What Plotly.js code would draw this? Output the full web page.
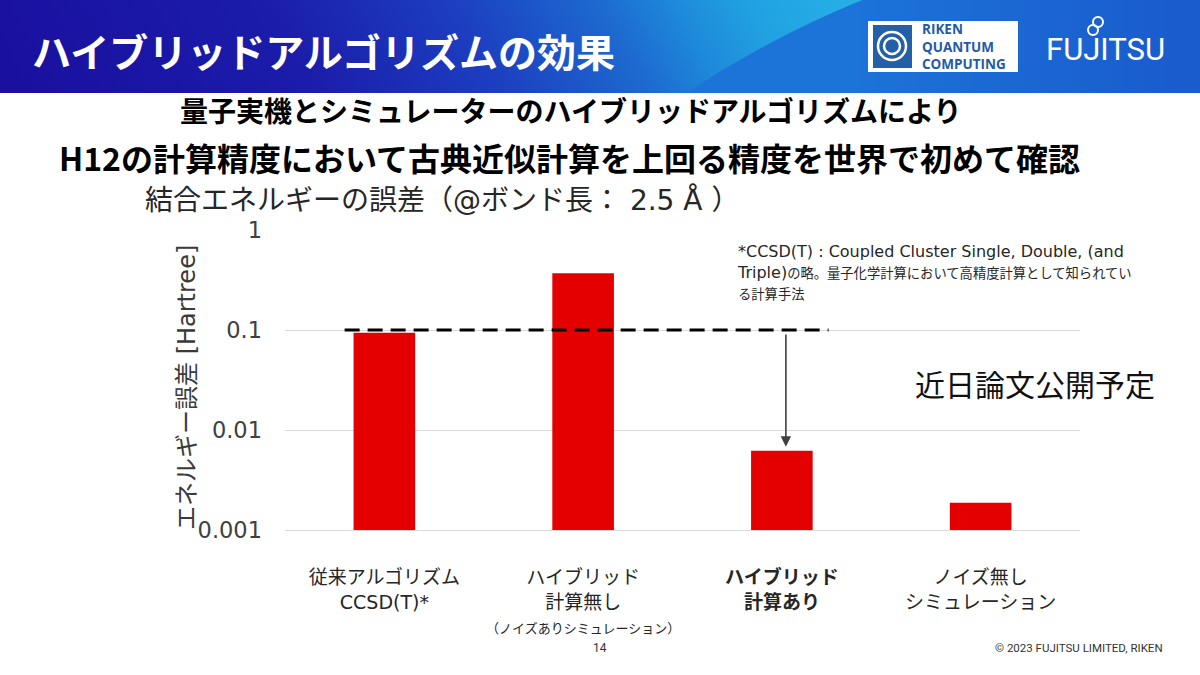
<!DOCTYPE html>
<html><head><meta charset="utf-8">
<script src="https://cdn.plot.ly/plotly-3.0.1.min.js"></script>
<style>
html,body{margin:0;padding:0;background:#fff;}
#wrap{position:relative;width:1200px;height:675px;overflow:hidden;background:#fff;}
#hdr{position:absolute;left:0;top:0;width:1200px;height:93px;overflow:hidden;
 background:linear-gradient(60deg,#1a0f9f 0%,#1b1caa 25%,#1c3ec0 40%,#1d6ad0 52%,#1e8ada 58%,#21a2e2 64%,#28b2e8 74%);}
#swoosh{position:absolute;left:224px;top:-76px;width:2052px;height:2052px;border-radius:50%;
 background:linear-gradient(to right,#1c74d9 30%,#1a5bcd 47%);}
#chart{position:absolute;left:0;top:0;width:1200px;height:675px;}
</style></head>
<body>
<div id="wrap">
  <div id="hdr"><div id="swoosh"></div></div>
  <div id="chart"></div>
</div>
<script>
// ---- data ----
const categories = ['従来アルゴリズム CCSD(T)*', 'ハイブリッド計算無し', 'ハイブリッド計算あり', 'ノイズ無しシミュレーション'];
const tickLabels = [
  '従来アルゴリズム<br>CCSD(T)*',
  'ハイブリッド<br>計算無し<br><span style="font-size:13px">（ノイズありシミュレーション）</span>',
  '<b>ハイブリッド</b><br><b>計算あり</b>',
  'ノイズ無し<br>シミュレーション'
];
const energyError = [0.094, 0.37, 0.0062, 0.00187];
const referenceValue = [0.1];
const yTickVals = [0.001, 0.01, 0.1, 1];
const yTickText = ['0.001', '0.01', '0.1', '1'];

// ---- layout helpers (pixel -> paper) ----
const L = 285, R = 1080, T = 230, B = 530;
const PX = x => (x - L) / (R - L);
const PY = y => (B - y) / (B - T);

const JP = 'Noto Sans CJK JP, sans-serif';
const MIX = 'DejaVu Sans, Noto Sans CJK JP, sans-serif';

const trace = {
  type: 'bar',
  x: categories,
  y: energyError,
  marker: {color: '#e50000'},
  hoverinfo: 'skip'
};

function ann(text, x, y, opts) {
  return Object.assign({text: text, xref: 'paper', yref: 'paper', x: PX(x), y: PY(y),
    showarrow: false, xanchor: 'center', yanchor: 'middle'}, opts || {});
}

const sm = s => '<span style="font-size:13.3px">' + s + '</span>';

const annotations = [
  ann('<b>ハイブリッドアルゴリズムの効果</b>', 30, 50, {xanchor: 'left', font: {family: JP, size: 39, color: '#ffffff'}}),
  ann('<b>量子実機とシミュレーターのハイブリッドアルゴリズムにより</b>', 570, 110, {font: {family: JP, size: 28, color: '#000000'}}),
  ann('<b>H12の計算精度において古典近似計算を上回る精度を世界で初めて確認</b>', 569, 157, {font: {family: JP, size: 32, color: '#000000'}}),
  ann('結合エネルギーの誤差（@ボンド長： 2.5 Å ）', 143, 200, {xanchor: 'left', font: {family: MIX, size: 28, color: '#262626'}}),
  ann('エネルギー誤差 [Hartree]', 187, 388, {textangle: -90, font: {family: MIX, size: 24, color: '#3a3a3a'}}),
  ann('*CCSD(T) : Coupled Cluster Single, Double, (and<br>Triple)' + sm('の略。量子化学計算において高精度計算として知られてい') + '<br>' + sm('る計算手法'),
      735, 272, {xanchor: 'left', align: 'left', font: {family: MIX, size: 16, color: '#262626'}}),
  ann('近日論文公開予定', 1035, 383, {font: {family: JP, size: 30, color: '#111111'}}),
  ann('14', 600, 648, {font: {family: 'Roboto, sans-serif', size: 12, color: '#333333'}}),
  ann('© 2023 FUJITSU LIMITED, RIKEN', 1165, 648, {xanchor: 'right', font: {family: 'Roboto, sans-serif', size: 11.5, color: '#333333'}}),
  ann('<b>RIKEN<br>QUANTUM<br>COMPUTING</b>', 920, 46, {xanchor: 'left', align: 'left', font: {family: 'Open Sans, sans-serif', size: 13.5, color: '#1f5ba6'}}),
  ann('FUJITSU', 1105, 50, {font: {family: 'Roboto, sans-serif', size: 31, color: '#ffffff'}}),
  // arrow from reference line down to the hybrid bar
  {x: categories[2], y: Math.log10(energyError[2]), xref: 'x', yref: 'y',
   ax: 0, ay: Math.log10(referenceValue[0]), axref: 'pixel', ayref: 'y',
   xshift: 4, showarrow: true, arrowhead: 2, arrowsize: 1.3, arrowwidth: 1.6,
   arrowcolor: '#404040', standoff: 4, startstandoff: 3, text: ''}
];

const shapes = [
  // reference (dashed) line
  {type: 'line', xref: 'x', yref: 'y', x0: -0.2, x1: 2.235, y0: referenceValue[0], y1: referenceValue[0],
   line: {color: '#000000', width: 3, dash: '15px,8px'}},
  // logo box
  {type: 'rect', xref: 'paper', yref: 'paper', x0: PX(868), x1: PX(1018), y0: PY(72), y1: PY(21),
   fillcolor: '#ffffff', line: {width: 0}},
  {type: 'rect', xref: 'paper', yref: 'paper', x0: PX(873), x1: PX(912), y0: PY(68), y1: PY(25),
   fillcolor: '#2460a8', line: {width: 0}},
  {type: 'circle', xref: 'paper', yref: 'paper', x0: PX(878), x1: PX(906), y0: PY(60), y1: PY(32),
   fillcolor: 'rgba(0,0,0,0)', line: {color: '#ffffff', width: 2.5}},
  {type: 'circle', xref: 'paper', yref: 'paper', x0: PX(884), x1: PX(900), y0: PY(54), y1: PY(38),
   fillcolor: 'rgba(0,0,0,0)', line: {color: '#ffffff', width: 2.5}},
  // Fujitsu infinity loops
  {type: 'circle', xref: 'paper', yref: 'paper', x0: PX(1093), x1: PX(1103), y0: PY(27), y1: PY(17),
   fillcolor: 'rgba(0,0,0,0)', line: {color: '#ffffff', width: 2}},
  {type: 'circle', xref: 'paper', yref: 'paper', x0: PX(1088), x1: PX(1098), y0: PY(35), y1: PY(25),
   fillcolor: 'rgba(0,0,0,0)', line: {color: '#ffffff', width: 2}}
];

const layout = {
  width: 1200, height: 675,
  margin: {l: L, r: 1200 - R, t: T, b: 675 - B, pad: 0},
  paper_bgcolor: 'rgba(0,0,0,0)',
  plot_bgcolor: 'rgba(0,0,0,0)',
  showlegend: false,
  bargap: 0.69,
  font: {family: MIX, color: '#262626'},
  xaxis: {
    type: 'category',
    tickvals: categories,
    ticktext: tickLabels,
    tickfont: {family: MIX, size: 19, color: '#262626'},
    ticks: '',
    ticklabelstandoff: 30,
    showgrid: false,
    showline: true, linecolor: '#d9d9d9', linewidth: 1,
    zeroline: false,
    fixedrange: true
  },
  yaxis: {
    type: 'log',
    range: [-3, 0],
    tickvals: yTickVals,
    ticktext: yTickText,
    tickfont: {family: MIX, size: 22.5, color: '#404040'},
    ticks: '',
    ticklabelstandoff: 22,
    showgrid: true, gridcolor: '#d9d9d9', gridwidth: 1,
    showline: false, zeroline: false,
    fixedrange: true
  },
  annotations: annotations,
  shapes: shapes
};

Plotly.newPlot('chart', [trace], layout, {displayModeBar: false, staticPlot: true});
</script>
</body></html>
